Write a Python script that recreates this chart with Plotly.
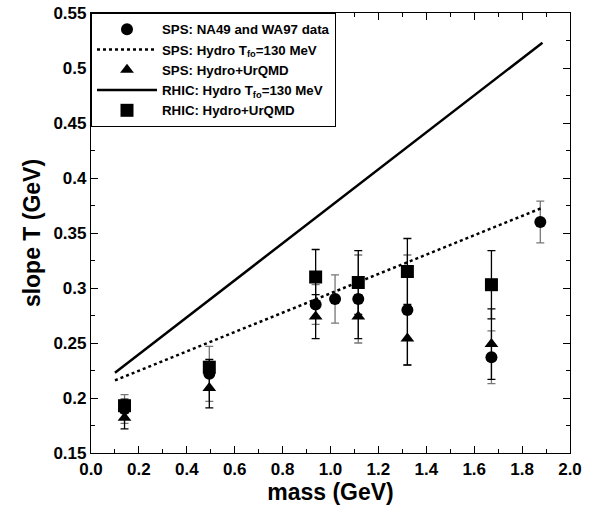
import plotly.graph_objects as go

# ---- data ----
mass_data = [0.140, 0.494, 0.938, 1.019, 1.116, 1.321, 1.672, 1.876]
T_data = [0.190, 0.222, 0.285, 0.290, 0.290, 0.280, 0.237, 0.360]
T_data_err = [0.013, 0.025, 0.018, 0.022, 0.040, 0.050, 0.024, 0.019]

mass_sps_uq = [0.140, 0.494, 0.938, 1.116, 1.321, 1.672]
T_sps_uq = [0.182, 0.209, 0.274, 0.274, 0.254, 0.249]
T_sps_uq_err = [0.010, 0.018, 0.020, 0.020, 0.024, 0.032]

mass_rhic_uq = [0.140, 0.494, 0.938, 1.116, 1.321, 1.672]
T_rhic_uq = [0.193, 0.228, 0.310, 0.305, 0.315, 0.303]
T_rhic_uq_err = [0.006, 0.007, 0.025, 0.029, 0.030, 0.031]

mass_line = [0.10, 1.885]
T_sps_hydro = [0.216, 0.373]
T_rhic_hydro = [0.223, 0.523]

x_ticks = [0.0, 0.2, 0.4, 0.6, 0.8, 1.0, 1.2, 1.4, 1.6, 1.8, 2.0]
y_ticks = [0.15, 0.2, 0.25, 0.3, 0.35, 0.4, 0.45, 0.5, 0.55]
y_ticktext = ["0.15", "0.2", "0.25", "0.3", "0.35", "0.4", "0.45", "0.5", "0.55"]

FONT = "Liberation Sans, Arial, sans-serif"

fig = go.Figure()

fig.add_trace(go.Scatter(
    x=mass_data, y=T_data, mode="markers", name="SPS: NA49 and WA97 data",
    marker=dict(symbol="circle", size=12, color="black"),
    error_y=dict(type="data", array=T_data_err, color="#777777", thickness=1.3, width=4),
))
fig.add_trace(go.Scatter(
    x=mass_line, y=T_sps_hydro, mode="lines",
    name="SPS: Hydro T<sub>fo</sub>=130 MeV",
    line=dict(color="black", width=2.5, dash="dot"),
))
fig.add_trace(go.Scatter(
    x=mass_sps_uq, y=T_sps_uq, mode="markers", name="SPS: Hydro+UrQMD",
    marker=dict(symbol="triangle-up", size=12, color="black"),
    error_y=dict(type="data", array=T_sps_uq_err, color="black", thickness=1.3, width=4),
))
fig.add_trace(go.Scatter(
    x=mass_line, y=T_rhic_hydro, mode="lines",
    name="RHIC: Hydro T<sub>fo</sub>=130 MeV",
    line=dict(color="black", width=2.5),
))
fig.add_trace(go.Scatter(
    x=mass_rhic_uq, y=T_rhic_uq, mode="markers", name="RHIC: Hydro+UrQMD",
    marker=dict(symbol="square", size=13, color="black"),
    error_y=dict(type="data", array=T_rhic_uq_err, color="black", thickness=1.3, width=4),
))

axis_common = dict(
    showline=True, linecolor="black", linewidth=1.2, mirror="ticks",
    ticks="inside", ticklen=7, tickcolor="black", tickwidth=1,
    showgrid=False, zeroline=False, automargin=False,
    tickfont=dict(family=FONT, size=17, color="black", weight="bold"),
)

fig.update_xaxes(
    range=[0, 2.0], tickvals=x_ticks, tickformat=".1f",
    minor=dict(ticks="inside", ticklen=4, dtick=0.1, tickcolor="black", showgrid=False),
    title=dict(text="mass (GeV)", font=dict(family=FONT, size=23, color="black", weight="bold"), standoff=6),
    **axis_common,
)
fig.update_yaxes(
    range=[0.15, 0.55], tickvals=y_ticks, ticktext=y_ticktext,
    minor=dict(ticks="inside", ticklen=4, dtick=0.025, tickcolor="black", showgrid=False),
    title=dict(text="slope T (GeV)", font=dict(family=FONT, size=23, color="black", weight="bold"), standoff=6),
    **axis_common,
)

fig.update_layout(
    width=590, height=508,
    margin=dict(l=91, r=20, t=13, b=55),
    paper_bgcolor="white", plot_bgcolor="white",
    font=dict(family=FONT, color="black", weight="bold"),
    showlegend=True,
    legend=dict(
        x=0, y=1, xanchor="left", yanchor="top",
        bordercolor="black", borderwidth=1, bgcolor="white",
        font=dict(family=FONT, size=13.3, color="black", weight="bold"),
        itemwidth=60, tracegroupgap=0,
    ),
)

fig.write_html(
    "out.html",
    config={"displayModeBar": False},
    post_script="document.body.style.margin='0';",
)
